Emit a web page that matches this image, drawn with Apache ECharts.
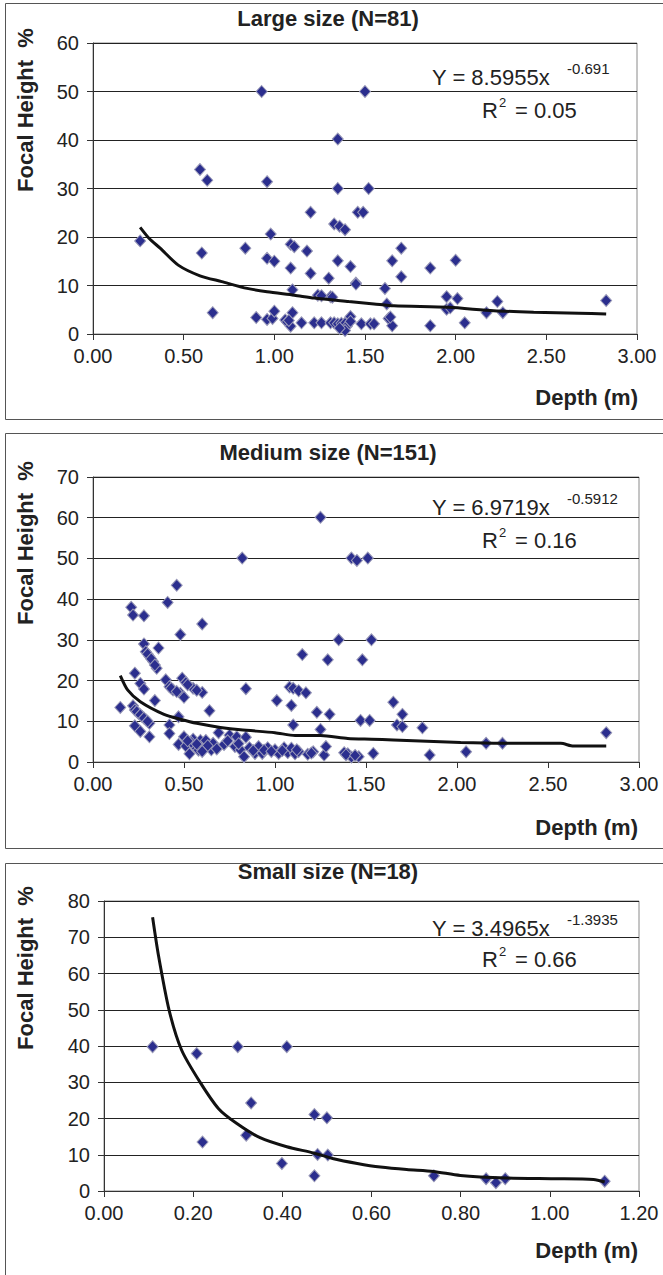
<!DOCTYPE html>
<html>
<head>
<meta charset="utf-8">
<script src="https://cdn.jsdelivr.net/npm/echarts@6/dist/echarts.min.js"></script>
<style>
  html, body { margin: 0; padding: 0; background: #fff; }
  #chart { width: 663px; height: 1275px; }
</style>
</head>
<body>
<div id="chart"></div>
<script>
// data: [depth m, focal height %]
var largeData = [
  [0.26,19.2],[0.59,33.9],[0.63,31.7],[0.60,16.7],[0.66,4.4],[0.93,50],[0.96,31.4],[0.98,20.6],
  [0.84,17.7],[0.96,15.6],[1.00,15.0],[0.90,3.4],[0.96,3.0],[0.99,3.2],[1.00,4.7],[1.06,2.9],
  [1.07,2.5],[1.09,1.6],[1.10,4.4],[1.09,18.5],[1.11,18.0],[1.09,13.6],[1.10,9.1],[1.15,2.3],
  [1.18,17.1],[1.20,25.1],[1.20,12.5],[1.24,8.0],[1.22,2.3],[1.26,2.3],[1.30,11.5],[1.31,7.7],
  [1.31,2.3],[1.33,22.7],[1.36,22.2],[1.39,21.5],[1.35,40.2],[1.35,30],[1.35,15.1],[1.33,2.3],
  [1.35,2.1],[1.37,2.2],[1.39,2.2],[1.40,1.6],[1.39,0.7],[1.42,13.9],[1.45,10.5],[1.42,3.6],
  [1.46,25.1],[1.49,25.1],[1.50,50],[1.52,30],[1.48,2.1],[1.53,2.1],[1.55,2.1],[1.70,17.7],
  [1.65,15.1],[1.70,11.8],[1.61,9.4],[1.62,6.2],[1.63,3.2],[1.65,1.7],[1.86,13.6],[1.86,1.7],
  [1.95,7.7],[1.95,5.1],[2.00,15.2],[2.01,7.3],[2.05,2.3],[2.17,4.4],[2.23,6.7],[2.26,4.4],
  [2.83,6.9],[1.45,10.3],[1.26,7.9],[1.32,7.6],[1.64,3.5],[1.36,1.2],[1.08,2.8],[1.42,2.6],
  [1.97,5.4]
];
var largeTrend = [
  [0.26,22.0],[0.31,19.7],[0.37,17.7],[0.47,14.2],[0.59,12.0],[0.71,10.8],[0.85,9.4],[0.96,8.7],
  [1.11,8.0],[1.22,7.4],[1.41,6.7],[1.55,6.2],[1.66,5.8],[1.96,5.5],[2.21,4.8],[2.43,4.5],
  [2.68,4.3],[2.83,4.1]
];

var mediumData = [
  [0.15,13.4],[0.21,38.0],[0.22,36.1],[0.28,35.9],[0.23,21.8],[0.26,19.3],[0.28,17.9],[0.22,13.8],
  [0.23,12.8],[0.25,12.0],[0.27,11.2],[0.29,10.4],[0.31,9.5],[0.23,8.9],[0.26,7.5],[0.31,6.2],
  [0.28,29.0],[0.29,27.1],[0.31,25.9],[0.33,24.7],[0.35,23.0],[0.36,28.0],[0.34,15.1],[0.41,39.2],
  [0.46,43.4],[0.48,31.3],[0.60,33.9],[0.40,20.2],[0.42,18.5],[0.44,17.7],[0.48,16.9],[0.50,15.9],
  [0.49,20.6],[0.51,19.5],[0.55,18.1],[0.60,17.1],[0.64,12.6],[0.42,9.1],[0.42,7.0],[0.47,11.1],
  [0.47,4.3],[0.50,6.2],[0.51,3.9],[0.53,2.0],[0.55,5.6],[0.56,3.8],[0.59,5.3],[0.61,3.3],
  [0.62,5.3],[0.65,3.0],[0.66,4.6],[0.69,7.2],[0.72,4.3],[0.75,6.6],[0.78,3.8],[0.79,6.2],
  [0.82,50.1],[0.84,18.0],[0.84,6.1],[0.81,3.0],[0.83,1.3],[0.86,3.5],[0.89,2.1],[0.91,3.8],
  [0.93,2.1],[0.96,3.5],[1.01,15.1],[1.00,3.0],[1.02,2.1],[1.05,3.5],[1.07,2.3],[1.09,3.4],
  [1.11,2.0],[1.13,2.6],[1.08,18.4],[1.10,18.1],[1.09,13.9],[1.10,9.1],[1.15,26.4],[1.13,17.5],
  [1.17,17.0],[1.18,1.9],[1.21,2.5],[1.23,12.2],[1.25,8.0],[1.27,1.7],[1.28,3.8],[1.25,60.1],
  [1.30,11.7],[1.29,25.1],[1.35,30.0],[1.38,2.3],[1.40,2.0],[1.42,1.2],[1.46,1.3],[1.42,50.1],
  [1.45,49.5],[1.51,50.1],[1.48,25.1],[1.47,10.2],[1.52,10.2],[1.53,30.0],[1.54,2.1],[1.65,14.7],
  [1.70,11.7],[1.67,9.1],[1.70,8.7],[1.81,8.4],[1.85,1.7],[2.05,2.5],[2.16,4.6],[2.25,4.6],
  [2.82,7.2],[0.24,12.4],[0.26,11.6],[0.28,10.8],[0.30,10.0],[0.30,26.5],[0.32,25.3],[0.34,23.8],
  [0.43,18.1],[0.46,17.3],[0.52,19.0],[0.57,17.6],[0.54,4.8],[0.58,2.9],[0.63,4.0],[0.68,3.2],
  [0.74,5.2],[0.80,4.5],[0.88,2.8],[0.94,2.9],[0.98,2.6],[1.04,2.8],[1.12,3.0],[1.20,2.2],
  [1.39,1.8],[1.44,1.6],[0.52,5.2],[0.57,4.4],[0.60,2.6]
];
var mediumTrend = [
  [0.15,21.2],[0.19,17.7],[0.26,14.8],[0.39,11.7],[0.48,10.5],[0.57,9.5],[0.70,8.5],[0.81,7.9],
  [1.00,7.2],[1.11,6.5],[1.25,6.5],[1.40,5.8],[1.53,5.6],[1.65,5.4],[2.02,4.8],[2.24,4.6],
  [2.57,4.6],[2.64,3.9],[2.82,3.9]
];

var smallData = [
  [0.109,39.8],[0.208,37.9],[0.221,13.5],[0.30,39.8],[0.33,24.3],[0.319,15.4],[0.41,39.8],
  [0.399,7.6],[0.472,21.1],[0.50,20.2],[0.479,10.1],[0.502,9.9],[0.472,4.2],[0.74,4.2],
  [0.857,3.4],[0.879,2.3],[0.90,3.4],[1.123,2.7]
];
var smallTrend = [
  [0.109,75.5],[0.122,65.1],[0.146,49.9],[0.174,38.9],[0.215,30.1],[0.257,22.7],[0.298,18.6],
  [0.35,14.7],[0.41,12.2],[0.47,10.5],[0.515,8.9],[0.568,7.6],[0.62,6.6],[0.679,5.9],[0.739,5.4],
  [0.799,4.3],[0.903,3.6],[1.008,3.4],[1.098,3.2],[1.123,2.5]
];

var titles = ['Large size (N=81)', 'Medium size (N=151)', 'Small size (N=18)'];
var equations = ['Y = 8.5955x', 'Y = 6.9719x', 'Y = 3.4965x'];
var exponents = ['-0.691', '-0.5912', '-1.3935'];
var r2Values = ['= 0.05', '= 0.16', '= 0.66'];
var yMax = [60, 70, 80];
var xMax = [3, 3, 1.2];
var xStep = [0.5, 0.5, 0.2];

var FONT = '"Liberation Sans", Arial, Helvetica, sans-serif';

var grids = [
  { left: 93, top: 43, width: 544, height: 291 },
  { left: 93, top: 477, width: 546, height: 285 },
  { left: 104, top: 901, width: 535, height: 290 }
];
// panel frame, title and label positions
var panelBox = [[5, 3, 416], [5, 433, 415], [5, 863, 430]];
var titleY = [18, 452, 871];
var depthY = [397, 827, 1250];
var yNameY = [110, 543, 968];
var eqY = [77, 507, 928];
var r2Y = [110, 540, 959];

var dom = document.getElementById('chart');
var myChart = echarts.init(dom, null, { renderer: 'svg' });

var xAxes = [], yAxes = [], series = [], graphics = [];

for (var i = 0; i < 3; i++) {
  grids[i].show = true;
  grids[i].borderColor = '#8a8a8a';
  grids[i].borderWidth = 1;

  xAxes.push({
    type: 'value', gridIndex: i, min: 0, max: xMax[i], interval: xStep[i],
    axisLine: { show: true, onZero: false, lineStyle: { color: '#333', width: 1 } },
    axisTick: { show: true, length: 6, lineStyle: { color: '#333' } },
    axisLabel: {
      fontSize: 20, color: '#222', fontFamily: FONT, margin: 12,
      formatter: function (v) { return v.toFixed(2); }
    },
    splitLine: { show: false }
  });
  yAxes.push({
    type: 'value', gridIndex: i, min: 0, max: yMax[i], interval: 10,
    axisLine: { show: true, lineStyle: { color: '#333', width: 1 } },
    axisTick: { show: true, length: 6, lineStyle: { color: '#333' } },
    axisLabel: { fontSize: 20, color: '#222', fontFamily: FONT, margin: 14 },
    splitLine: { show: true, lineStyle: { color: '#222', width: 1 } }
  });

  // panel frame
  graphics.push({
    type: 'rect', silent: true, z: -1,
    shape: { x: panelBox[i][0] + 0.5, y: panelBox[i][1] + 0.5, width: 700, height: panelBox[i][2] },
    style: { fill: 'none', stroke: '#555', lineWidth: 1 }
  });
  graphics.push({
    type: 'text', x: 328, y: titleY[i],
    style: { text: titles[i], font: 'bold 22px ' + FONT, fill: '#222', align: 'center', verticalAlign: 'middle' }
  });
  graphics.push({
    type: 'text', x: 638, y: depthY[i],
    style: { text: 'Depth (m)', font: 'bold 22px ' + FONT, fill: '#222', align: 'right', verticalAlign: 'middle' }
  });
  graphics.push({
    type: 'text', x: 25, y: yNameY[i], rotation: Math.PI / 2,
    style: { text: 'Focal Height  %', font: 'bold 22px ' + FONT, fill: '#222', align: 'center', verticalAlign: 'middle' }
  });
  graphics.push({
    type: 'text', x: 432, y: eqY[i],
    style: { text: equations[i], font: '22px ' + FONT, fill: '#222', align: 'left', verticalAlign: 'middle' }
  });
  graphics.push({
    type: 'text', x: 567, y: eqY[i] - 9,
    style: { text: exponents[i], font: '15px ' + FONT, fill: '#222', align: 'left', verticalAlign: 'middle' }
  });
  graphics.push({
    type: 'text', x: 482, y: r2Y[i],
    style: { text: 'R', font: '22px ' + FONT, fill: '#222', align: 'left', verticalAlign: 'middle' }
  });
  graphics.push({
    type: 'text', x: 499, y: r2Y[i] - 8,
    style: { text: '2', font: '13px ' + FONT, fill: '#222', align: 'left', verticalAlign: 'middle' }
  });
  graphics.push({
    type: 'text', x: 515, y: r2Y[i],
    style: { text: r2Values[i], font: '22px ' + FONT, fill: '#222', align: 'left', verticalAlign: 'middle' }
  });
}

var scatterSets = [largeData, mediumData, smallData];
var trendSets = [largeTrend, mediumTrend, smallTrend];

for (var k = 0; k < 3; k++) {
  series.push({
    type: 'scatter', xAxisIndex: k, yAxisIndex: k, data: scatterSets[k],
    symbol: 'diamond', symbolSize: [11, 12],
    itemStyle: { color: '#2b2e8e', borderColor: '#9a9ab8', borderWidth: 1, opacity: 1 },
    z: 2
  });
  series.push({
    type: 'line', xAxisIndex: k, yAxisIndex: k, data: trendSets[k],
    showSymbol: false, smooth: 0.25,
    lineStyle: { color: '#111', width: 3 },
    z: 3
  });
}

var option = {
  animation: false,
  backgroundColor: '#fff',
  textStyle: { fontFamily: FONT },
  grid: grids,
  xAxis: xAxes,
  yAxis: yAxes,
  series: series,
  graphic: graphics
};

myChart.setOption(option);
window.addEventListener('resize', myChart.resize);
</script>
</body>
</html>
